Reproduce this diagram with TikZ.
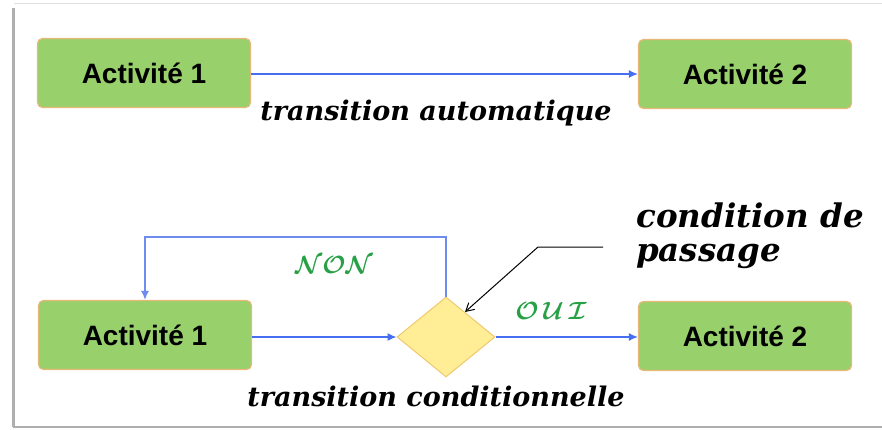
\documentclass[tikz,border=0pt]{standalone}
\usepackage{amsmath}
\usepackage{fontspec}
\setmainfont{DejaVu Serif}
\newfontfamily\boxfont{Liberation Sans}
\usetikzlibrary{shapes.geometric,arrows.meta}
\definecolor{actfill}{RGB}{152,208,108}
\definecolor{actedge}{RGB}{232,184,120}
\definecolor{decfill}{RGB}{255,238,150}
\definecolor{decedge}{RGB}{240,200,110}
\definecolor{flow}{RGB}{70,110,240}
\definecolor{loopline}{RGB}{110,140,240}
\definecolor{yesno}{RGB}{40,160,70}
\definecolor{frameline}{RGB}{175,175,175}
\tikzset{
  activity/.style={draw=actedge, line width=1.2pt, fill=actfill, rounded corners=5pt,
    minimum width=213pt, minimum height=69pt, inner sep=0pt,
    font=\boxfont\bfseries\fontsize{28}{30}\selectfont},
  decision/.style={diamond, draw=decedge, line width=1pt, fill=decfill,
    minimum width=98pt, minimum height=80pt, inner sep=0pt, aspect=1.2},
  flowarrow/.style={draw=flow, line width=1.4pt, -{Latex[length=9pt,width=8pt]}},
  caption/.style={font=\bfseries\itshape\fontsize{27}{30}\selectfont, inner sep=0pt},
  answer/.style={text=yesno, font=\fontsize{29}{30}\selectfont, inner sep=0pt},
  note/.style={font=\bfseries\itshape\fontsize{32.5}{34}\selectfont, inner sep=0pt, align=left}
}
\begin{document}
\begin{tikzpicture}[x=1pt,y=-1pt]
  \useasboundingbox (0,0) rectangle (882,430);
  \fill[white] (0,0) rectangle (882,430);
  % frame with a soft shadowed edge
  \draw[frameline!40, line width=1pt] (14,4) -- (882,4);
  \draw[frameline, line width=3pt] (13,8) -- (13,427);
  \draw[frameline, line width=2pt] (13,427) -- (882,427);

  % automatic transition
  \node[activity] (a1) at (144,73) {Activit\'e 1};
  \node[activity] (a2) at (745,74) {Activit\'e 2};
  \draw[flowarrow] (a1.east |- 0,74) -- (a2.west |- 0,74);
  \node[caption] (lauto) at (436,113) {transition automatique};

  % conditional transition
  \node[activity] (b1) at (145,335) {Activit\'e 1};
  \node[decision] (d) at (446,337) {};
  \node[activity] (b2) at (745,336) {Activit\'e 2};
  \draw[flowarrow] (b1.east |- d.west) -- (d.west);
  \draw[flowarrow] (d.east) -- (b2.west |- d.east);
  \coordinate (lp) at (446,237);
  \draw[draw=loopline, line width=1.4pt, -{Latex[length=9pt,width=8pt]}]
    (d.north) -- (lp) -| (b1.north);
  \node[answer] (non) at (334,265) {$\boldsymbol{\mathcal{NON}}$};
  \node[answer] (oui) at (551,311) {$\boldsymbol{\mathcal{O\,U\,I}}$};
  \node[caption] (lcond) at (436,396) {transition conditionnelle};

  % callout
  \node[note, anchor=north west] (cond) at (636,203) {condition de\\passage};
  \coordinate (c0) at (603,247);
  \coordinate (c1) at (538,247);
  \draw[line width=1pt, -{Straight Barb[length=8pt,width=9pt]}] (c0) -- (c1) -- (465,312);
\end{tikzpicture}
\end{document}
